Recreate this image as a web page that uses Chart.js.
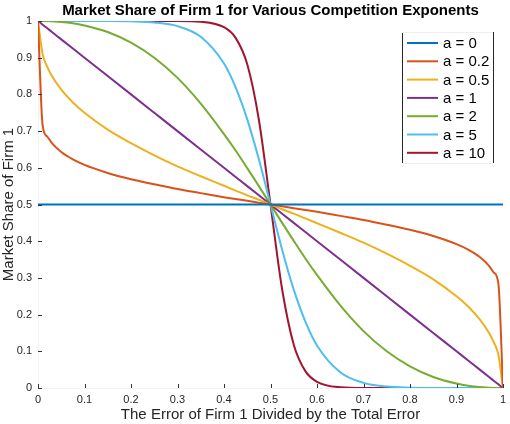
<!DOCTYPE html>
<html>
<head>
<meta charset="utf-8">
<script src="https://cdn.jsdelivr.net/npm/chart.js@4.4.1/dist/chart.umd.min.js"></script>
<style>
html,body{margin:0;padding:0;background:#fff;}
#wrap{width:510px;height:424px;}
</style>
</head>
<body>
<div id="wrap"><canvas id="c"></canvas></div>
<script>
const xValues = [0, 0.01, 0.02, 0.03, 0.05, 0.075, 0.1, 0.15, 0.2, 0.25, 0.3, 0.35, 0.4, 0.425, 0.45, 0.475, 0.5, 0.525, 0.55, 0.575, 0.6, 0.65, 0.7, 0.75, 0.8, 0.85, 0.9, 0.925, 0.95, 0.97, 0.98, 0.99, 1];
const share_a0   = [0.5,0.5,0.5,0.5,0.5,0.5,0.5,0.5,0.5,0.5,0.5,0.5,0.5,0.5,0.5,0.5,0.5,0.5,0.5,0.5,0.5,0.5,0.5,0.5,0.5,0.5,0.5,0.5,0.5,0.5,0.5,0.5,0.5];
const share_a02  = [1, 0.715, 0.685, 0.667, 0.643, 0.623, 0.608, 0.586, 0.569, 0.555, 0.542, 0.531, 0.520, 0.515, 0.510, 0.505, 0.5, 0.495, 0.490, 0.485, 0.480, 0.469, 0.458, 0.445, 0.431, 0.414, 0.392, 0.377, 0.357, 0.333, 0.315, 0.285, 0];
const share_a05  = [1, 0.909, 0.875, 0.850, 0.813, 0.778, 0.75, 0.704, 0.667, 0.634, 0.604, 0.577, 0.551, 0.538, 0.525, 0.513, 0.5, 0.487, 0.475, 0.462, 0.449, 0.423, 0.396, 0.366, 0.333, 0.296, 0.25, 0.222, 0.187, 0.150, 0.125, 0.091, 0];
const share_a1   = [1, 0.99, 0.98, 0.97, 0.95, 0.925, 0.9, 0.85, 0.8, 0.75, 0.7, 0.65, 0.6, 0.575, 0.55, 0.525, 0.5, 0.475, 0.45, 0.425, 0.4, 0.35, 0.3, 0.25, 0.2, 0.15, 0.1, 0.075, 0.05, 0.03, 0.02, 0.01, 0];
const share_a2   = [1, 1.0, 1.0, 0.999, 0.997, 0.994, 0.988, 0.970, 0.941, 0.9, 0.845, 0.775, 0.692, 0.647, 0.599, 0.550, 0.5, 0.450, 0.401, 0.353, 0.308, 0.225, 0.155, 0.1, 0.059, 0.030, 0.012, 0.006, 0.003, 0.001, 0, 0, 0];
const share_a5   = [1, 1, 1, 1, 1, 1, 1, 1.0, 0.999, 0.996, 0.986, 0.957, 0.884, 0.819, 0.732, 0.623, 0.5, 0.377, 0.268, 0.181, 0.116, 0.043, 0.014, 0.004, 0.001, 0, 0, 0, 0, 0, 0, 0, 0];
const share_a10  = [1, 1, 1, 1, 1, 1, 1, 1, 1, 1, 1.0, 0.998, 0.983, 0.954, 0.882, 0.731, 0.5, 0.269, 0.118, 0.046, 0.017, 0.002, 0, 0, 0, 0, 0, 0, 0, 0, 0, 0, 0];
const seriesLabels = ['a = 0', 'a = 0.2', 'a = 0.5', 'a = 1', 'a = 2', 'a = 5', 'a = 10'];
const seriesValues = [share_a0, share_a02, share_a05, share_a1, share_a2, share_a5, share_a10];
const seriesColors = ['#0072BD', '#D95319', '#EDB120', '#7E2F8E', '#77AC30', '#4DBEEE', '#A2142F'];
const xTicks = [0, 0.1, 0.2, 0.3, 0.4, 0.5, 0.6, 0.7, 0.8, 0.9, 1];
const yTicks = [0, 0.1, 0.2, 0.3, 0.4, 0.5, 0.6, 0.7, 0.8, 0.9, 1];
const chartTitle = 'Market Share of Firm 1 for Various Competition Exponents';

const FONT = 'Liberation Sans, Arial, Helvetica, sans-serif';
const TXT = '#262626';

const datasets = seriesValues.map((vals, i) => ({
  label: seriesLabels[i],
  data: vals.map((v, j) => ({x: xValues[j], y: v})),
  borderColor: seriesColors[i],
  backgroundColor: seriesColors[i],
  borderWidth: 2,
  pointRadius: 0,
  fill: false,
  cubicInterpolationMode: 'monotone'
}));

const innerTicks = {
  id: 'innerTicks',
  afterDraw(chart) {
    const {ctx, chartArea: a, scales: {x, y}} = chart;
    ctx.save();
    ctx.strokeStyle = '#333';
    ctx.lineWidth = 1;
    ctx.beginPath();
    xTicks.forEach(t => {
      const px = Math.round(x.getPixelForValue(t)) + 0.5;
      ctx.moveTo(px, a.bottom); ctx.lineTo(px, a.bottom - 4);
    });
    yTicks.forEach(t => {
      const py = Math.round(y.getPixelForValue(t)) + 0.5;
      ctx.moveTo(a.left, py); ctx.lineTo(a.left + 4, py);
    });
    ctx.stroke();
    ctx.font = 'bold 15px ' + FONT;
    ctx.fillStyle = '#000';
    ctx.textAlign = 'center';
    ctx.textBaseline = 'middle';
    ctx.fillText(chartTitle, (a.left + a.right) / 2, 11);
    ctx.restore();
  }
};

const boxLegend = {
  id: 'boxLegend',
  afterDraw(chart) {
    const ctx = chart.ctx;
    const left = 402, right = 493, top = 32, bottom = 163;
    ctx.save();
    ctx.fillStyle = '#fff';
    ctx.fillRect(left, top, right - left, bottom - top);
    ctx.strokeStyle = '#262626';
    ctx.lineWidth = 1;
    ctx.beginPath();
    ctx.moveTo(left + 0.5, top); ctx.lineTo(left + 0.5, bottom);
    ctx.moveTo(right + 0.5, top); ctx.lineTo(right + 0.5, bottom);
    ctx.stroke();
    ctx.strokeStyle = '#eeeeee';
    ctx.beginPath();
    ctx.moveTo(left, top + 0.5); ctx.lineTo(right, top + 0.5);
    ctx.moveTo(left, bottom + 0.5); ctx.lineTo(right, bottom + 0.5);
    ctx.stroke();
    ctx.font = '15px ' + FONT;
    ctx.textBaseline = 'middle';
    ctx.fillStyle = '#000';
    chart.data.datasets.forEach((ds, i) => {
      const yy = 43 + i * 18.3;
      ctx.strokeStyle = ds.borderColor;
      ctx.lineWidth = 2;
      ctx.beginPath();
      ctx.moveTo(407, yy); ctx.lineTo(438, yy);
      ctx.stroke();
      ctx.fillText(ds.label, 443, yy + 1);
    });
    ctx.restore();
  }
};

new Chart(document.getElementById('c'), {
  type: 'line',
  data: {datasets},
  options: {
    responsive: true,
    maintainAspectRatio: false,
    animation: false,
    layout: {padding: {left: 0, right: 7, top: 21, bottom: 0}},
    plugins: {
      legend: {display: false},
      tooltip: {enabled: false},
      title: {display: false}
    },
    scales: {
      x: {
        type: 'linear', min: 0, max: 1,
        afterBuildTicks: s => { s.ticks = xTicks.map(v => ({value: v})); },
        afterFit: s => { s.height = 36; s.paddingLeft = 0; s.paddingRight = 0; },
        grid: {display: false, drawTicks: false},
        border: {display: true, color: '#f2f2f2'},
        ticks: {color: TXT, font: {family: FONT, size: 11}, padding: 5, maxRotation: 0,
                callback: v => String(v)},
        title: {display: true, text: 'The Error of Firm 1 Divided by the Total Error',
                color: TXT, font: {family: FONT, size: 15}, padding: {top: 0, bottom: 0}}
      },
      y: {
        type: 'linear', min: 0, max: 1,
        afterBuildTicks: s => { s.ticks = yTicks.map(v => ({value: v})); },
        afterFit: s => { s.width = 38; s.paddingTop = 0; s.paddingBottom = 0; },
        grid: {display: false, drawTicks: false},
        border: {display: true, color: '#f2f2f2'},
        ticks: {color: TXT, font: {family: FONT, size: 11}, padding: 6,
                callback: v => String(v)},
        title: {display: true, text: 'Market Share of Firm 1',
                color: TXT, font: {family: FONT, size: 15}, padding: {top: 0, bottom: 0}}
      }
    }
  },
  plugins: [innerTicks, boxLegend]
});
</script>
</body>
</html>
